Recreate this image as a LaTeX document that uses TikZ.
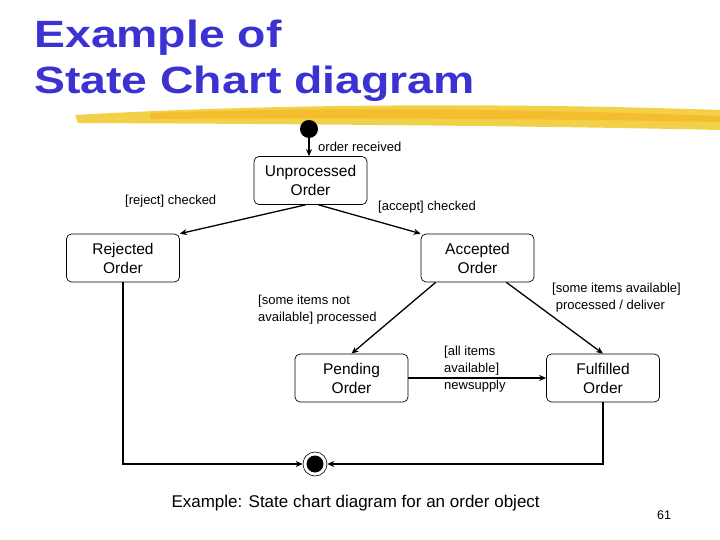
\documentclass[tikz,border=0pt]{standalone}
\usepackage{fontspec}
\setmainfont{Liberation Sans}
\usetikzlibrary{arrows.meta}
\definecolor{ttl}{RGB}{60,50,210}
\definecolor{gold}{RGB}{240,200,40}
\begin{document}
\begin{tikzpicture}[x=1pt,y=-1pt,
  st/.style={draw,rounded corners=5pt,minimum width=113pt,minimum height=48pt,align=center,font=\fontsize{15.5}{19}\selectfont,line width=0.7pt},
  lbl/.style={font=\fontsize{13}{17}\selectfont,align=left,inner sep=0pt},
  tr/.style={-{Stealth[length=7pt,width=6pt]},line width=1.3pt}]
\useasboundingbox (0,0) rectangle (720,540);
\node[anchor=west,text=ttl,font=\fontsize{38}{46}\selectfont\bfseries,align=left,xscale=1.22] (title) at (30,61) {Example of\\State Chart diagram};
\fill[gold,opacity=0.85] (75,115) .. controls (300,102) and (550,104) .. (720,110) -- (720,130) .. controls (550,126) and (300,124) .. (78,123) -- cycle;
\fill[gold!70!orange,opacity=0.6] (150,113) .. controls (350,106) and (550,110) .. (720,116) -- (720,122) .. controls (500,118) and (300,118) .. (150,119) -- cycle;
\node[circle,fill=black,minimum size=18pt,inner sep=0pt] (init) at (309,129) {};
\node[st] (un) at (310.5,180.5) {Unprocessed\\Order};
\node[st] (rej) at (123,258) {Rejected\\Order};
\node[st] (acc) at (477.5,258) {Accepted\\Order};
\node[st] (pen) at (351.5,378) {Pending\\Order};
\node[st] (ful) at (603,378) {Fulfilled\\Order};
\node[circle,draw,line width=0.6pt,minimum size=24pt,inner sep=0pt] (fin) at (315,464) {};
\node[circle,fill=black,minimum size=17pt,inner sep=0pt] (finc) at (fin) {};
\draw[tr] (init) -- (un.north -| init);
\draw[tr] (un.south) ++(-5,0) coordinate (u1) -- (rej.north east);
\draw[tr] (un.south) ++(8,0) coordinate (u2) -- (acc.north west);
\draw[tr] (acc.south west) ++(15,0) coordinate (a1) -- (pen.north);
\draw[tr] (acc.south east) ++(-28,0) coordinate (a2) -- (ful.north);
\draw[tr] (pen.east) -- (ful.west);
\draw[tr] (rej.south) |- (fin.west);
\draw[tr] (ful.south) |- (fin.east);
\node[lbl,anchor=west] (l1) at (318,147) {order received};
\node[lbl,anchor=west] (l2) at (125,201) {[reject] checked};
\node[lbl,anchor=west] (l3) at (378,207) {[accept] checked};
\node[lbl,anchor=west] (l4) at (258,310) {[some items not\\available] processed};
\node[lbl,anchor=west] (l5) at (552,298) {[some items available]\\\ processed / deliver};
\node[lbl,anchor=west] (l6) at (444,369) {[all items\\available]\\newsupply};
\node[anchor=west,font=\fontsize{17}{19}\selectfont] (cap) at (168,503) {Example: State chart diagram for an order object};
\node[font=\fontsize{12.5}{14}\selectfont] (pg) at (664,515) {61};
\end{tikzpicture}
\end{document}
